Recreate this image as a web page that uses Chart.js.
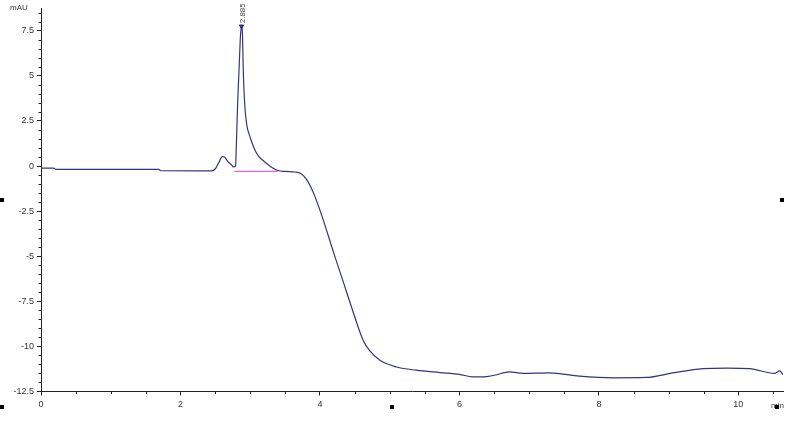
<!DOCTYPE html>
<html>
<head>
<meta charset="utf-8">
<script src="https://cdn.jsdelivr.net/npm/chart.js@4/dist/chart.umd.min.js"></script>
<style>
html,body{margin:0;padding:0;background:#fff;}
canvas{display:block;}
</style>
</head>
<body>
<canvas id="c" width="800" height="424"></canvas>
<script>
// Retention time (min) and absorbance (mAU)
const times = [0, 0.18, 0.21, 1.0, 1.69, 1.72, 2.3, 2.45, 2.5, 2.55, 2.6, 2.63, 2.68, 2.73, 2.76, 2.79, 2.80, 2.82, 2.84, 2.86, 2.875, 2.89, 2.90, 2.92, 2.95, 2.99, 3.03, 3.06, 3.12, 3.21, 3.30, 3.40, 3.50, 3.64, 3.72, 3.80, 3.90, 4.04, 4.19, 4.33, 4.47, 4.62, 4.71, 4.86, 5.10, 5.38, 5.72, 6.0, 6.19, 6.34, 6.5, 6.72, 6.91, 7.29, 7.72, 8.2, 8.68, 9.06, 9.49, 9.83, 10.16, 10.52, 10.59, 10.64];
const signal = [-0.11, -0.11, -0.18, -0.19, -0.19, -0.26, -0.27, -0.27, -0.15, 0.2, 0.52, 0.5, 0.25, 0.07, -0.05, 0.0, 1.0, 3.5, 5.35, 7.2, 7.75, 7.2, 5.35, 3.5, 2.3, 1.7, 1.25, 0.95, 0.55, 0.22, -0.05, -0.25, -0.30, -0.33, -0.40, -0.70, -1.43, -2.9, -4.73, -6.37, -8.02, -9.67, -10.22, -10.77, -11.14, -11.32, -11.45, -11.55, -11.69, -11.69, -11.6, -11.41, -11.5, -11.47, -11.65, -11.74, -11.72, -11.47, -11.23, -11.2, -11.23, -11.5, -11.36, -11.56];
// Integration baseline of the main peak
const baseTimes = [2.77, 3.40];
const baseValues = [-0.29, -0.29];
// Peak apex annotation
const peakTime = [2.875];
const peakValue = [7.75];
const peakLabel = "2.885";
// Axis labels
const yUnit = "mAU";
const xUnit = "min";
const yTickLabels = [-12.5, -10, -7.5, -5, -2.5, 0, 2.5, 5, 7.5];
const xTickLabels = [0, 2, 4, 6, 8, 10];

const FONT = "'Liberation Sans', Arial, sans-serif";
const TXT = '#333';
const AX = '#222';

function isMajor(v, list){ return list.some(t => Math.abs(t - v) < 1e-6); }

const extras = {
  id: 'extras',
  afterDraw(chart){
    const ctx = chart.ctx;
    const xs = chart.scales.x, ys = chart.scales.y;
    const area = chart.chartArea;
    ctx.save();
    ctx.strokeStyle = AX;
    ctx.lineWidth = 1;
    // minor ticks
    for (let v = -12.5; v <= 8.5 + 1e-6; v += 0.5){
      if (isMajor(v, yTickLabels)) continue;
      const p = Math.round(ys.getPixelForValue(v)) + 0.5;
      ctx.beginPath(); ctx.moveTo(area.left - 2.5, p); ctx.lineTo(area.left, p); ctx.stroke();
    }
    for (let v = 0; v <= 10.5 + 1e-6; v += 0.5){
      if (isMajor(v, xTickLabels)) continue;
      const p = Math.round(xs.getPixelForValue(v)) + 0.5;
      ctx.beginPath(); ctx.moveTo(p, area.bottom); ctx.lineTo(p, area.bottom + 2.5); ctx.stroke();
    }
    // unit labels
    ctx.fillStyle = TXT;
    ctx.font = '8px ' + FONT;
    ctx.textBaseline = 'middle';
    ctx.textAlign = 'left';
    ctx.fillText(yUnit, 10, 8);
    ctx.font = '8px ' + FONT;
    ctx.fillText(xUnit, 771, 406);
    // peak label rotated
    const px = xs.getPixelForValue(peakTime[0]);
    const py = ys.getPixelForValue(peakValue[0]);
    ctx.save();
    ctx.translate(px + 1, py - 3);
    ctx.rotate(-Math.PI / 2);
    ctx.font = '8px ' + FONT;
    ctx.textAlign = 'left';
    ctx.textBaseline = 'middle';
    ctx.fillStyle = '#444';
    ctx.fillText(peakLabel, 0, 0);
    ctx.restore();
    // selection handles of the embedded picture
    ctx.fillStyle = '#000';
    const W = chart.width, H = chart.height;
    const handles = [[2, 200], [W - 18, 200], [392, 407], [2, 407], [W - 23, 407]];
    handles.forEach(h => ctx.fillRect(h[0] - 2, h[1] - 2, 4, 4));
    ctx.restore();
  }
};

new Chart(document.getElementById('c'), {
  type: 'scatter',
  data: {
    datasets: [
      {
        data: times.map((t, i) => ({x: t, y: signal[i]})),
        showLine: true,
        borderColor: '#34347c',
        borderWidth: 1.2,
        pointRadius: 0,
        cubicInterpolationMode: 'monotone',
        order: 2
      },
      {
        data: baseTimes.map((t, i) => ({x: t, y: baseValues[i]})),
        showLine: true,
        borderColor: '#cc44cc',
        borderWidth: 1,
        pointRadius: 0,
        order: 1
      },
      {
        data: peakTime.map((t, i) => ({x: t, y: peakValue[i]})),
        showLine: false,
        pointStyle: 'triangle',
        rotation: 180,
        pointRadius: 2.5,
        backgroundColor: '#2a2a90',
        borderColor: '#2a2a90',
        borderWidth: 1,
        order: 0
      }
    ]
  },
  options: {
    responsive: false,
    animation: false,
    devicePixelRatio: 1,
    layout: { padding: { top: 5, right: 17, left: 0, bottom: 0 } },
    plugins: { legend: { display: false }, tooltip: { enabled: false } },
    scales: {
      x: {
        type: 'linear',
        min: 0,
        max: 10.64,
        afterBuildTicks(s){ s.ticks = xTickLabels.map(v => ({value: v})); },
        afterFit(s){ s.height = 32.5; },
        border: { display: true, color: AX, width: 1 },
        grid: { drawOnChartArea: false, drawTicks: true, tickLength: 4, tickColor: AX },
        ticks: { color: TXT, font: { family: FONT, size: 9 }, padding: 4, maxRotation: 0, autoSkip: false,
                 callback: v => String(v) }
      },
      y: {
        type: 'linear',
        min: -12.5,
        max: 8.74,
        afterBuildTicks(s){ s.ticks = yTickLabels.map(v => ({value: v})); },
        afterFit(s){ s.width = 41; },
        border: { display: true, color: AX, width: 1 },
        grid: { drawOnChartArea: false, drawTicks: true, tickLength: 4, tickColor: AX },
        ticks: { color: TXT, font: { family: FONT, size: 9 }, padding: 3, autoSkip: false,
                 callback: v => String(v) }
      }
    }
  },
  plugins: [extras]
});
</script>
</body>
</html>
